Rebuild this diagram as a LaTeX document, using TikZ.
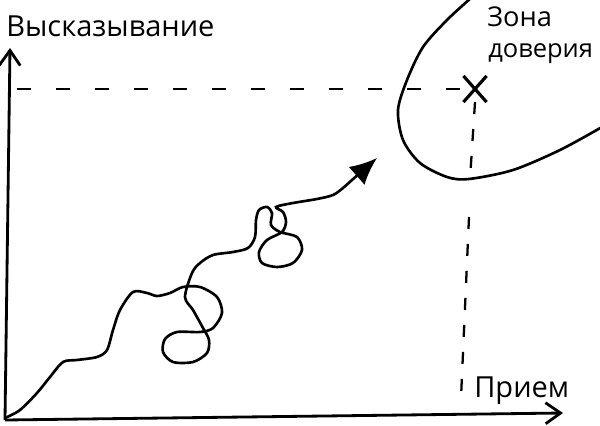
\documentclass[tikz,border=0pt]{standalone}
\usepackage{fontspec}
\setmainfont{Open Sans}
\usetikzlibrary{arrows.meta, shapes.misc}

\tikzset{
    achse/.style = {line width = 1.6pt, -{Straight Barb[length = 3mm, width = 4.2mm]}},
    hilfslinie/.style = {line width = 1.3pt, dash pattern = on 2.8mm off 5mm},
    senkrecht/.style = {line width = 1.3pt, dash pattern = on 2.4mm off 3mm},
    beschriftung/.style = {inner sep = 0pt, anchor = base west, font = \fontsize{16.5}{19}\selectfont},
}

\begin{document}
\begin{tikzpicture}[x = 0.2mm, y = -0.2mm]
        \useasboundingbox (0, 0) rectangle (600, 425);

        % Achsen
        \coordinate (ursprung) at (5, 420);
        \draw [achse] (ursprung) -- (10, 48);
        \draw [achse] (ursprung) -- (563, 413);
        \node [beschriftung] (hoehe) at (6, 37) {Высказывание};
        \node [beschriftung] (breite) at (474, 397) {Прием};

        % Zone
        \draw [line width = 1.5pt] plot [smooth] coordinates {
            (471, -2) (447, 20) (423, 47) (407, 80) (398, 110) (403, 140)
            (420, 163) (447, 177) (469, 179) (513, 170) (560, 150) (602, 127)};
        \coordinate (tief) at (470, 179);
        \node [beschriftung, font = \fontsize{15.5}{18}\selectfont] (zone) at (487, 27) {Зона};
        \node [beschriftung, font = \fontsize{14.5}{18}\selectfont] (vertrauen) at (488, 58) {доверия};

        % Ziel
        \node [draw, cross out, line width = 1.8pt, minimum width = 4mm, minimum height = 4.6mm,
            inner sep = 0pt] (ziel) at (475, 89) {};
        \coordinate (links) at (17, 89);
        \coordinate (fuss) at (461, 398);
        \draw [hilfslinie] (links) -- (ziel.west);
        \draw [senkrecht] (ziel.south) -- (tief);
        \draw [senkrecht] (469, 217) -- (fuss);

        % Weg
        \draw [line width = 1.5pt, -{Latex[length = 5.4mm, width = 4.8mm]}] plot [smooth] coordinates {
            (5, 418) (20, 410) (37, 393) (50, 377) (63, 362) (77, 360) (97, 357)
            (107, 350) (113, 330) (120, 310) (133, 292) (147, 293) (157, 296)
            (170, 293) (183, 287) (200, 287) (217, 297) (222, 313) (213, 328)
            (200, 332) (177, 332) (165, 339) (163, 352) (173, 362) (193, 362)
            (207, 353) (209, 340) (203, 328) (193, 310) (185, 297) (192, 273)
            (200, 263) (213, 255) (233, 252) (248, 248) (255, 237) (256, 220)
            (259, 210) (267, 207) (272, 213) (271, 225) (280, 232) (297, 237)
            (302, 250) (293, 263) (277, 267) (262, 263) (259, 252) (267, 240)
            (282, 232) (286, 222) (283, 212) (276, 207) (293, 203) (317, 199)
            (333, 195) (343, 188) (352, 180) (377, 158)};
\end{tikzpicture}
\end{document}
